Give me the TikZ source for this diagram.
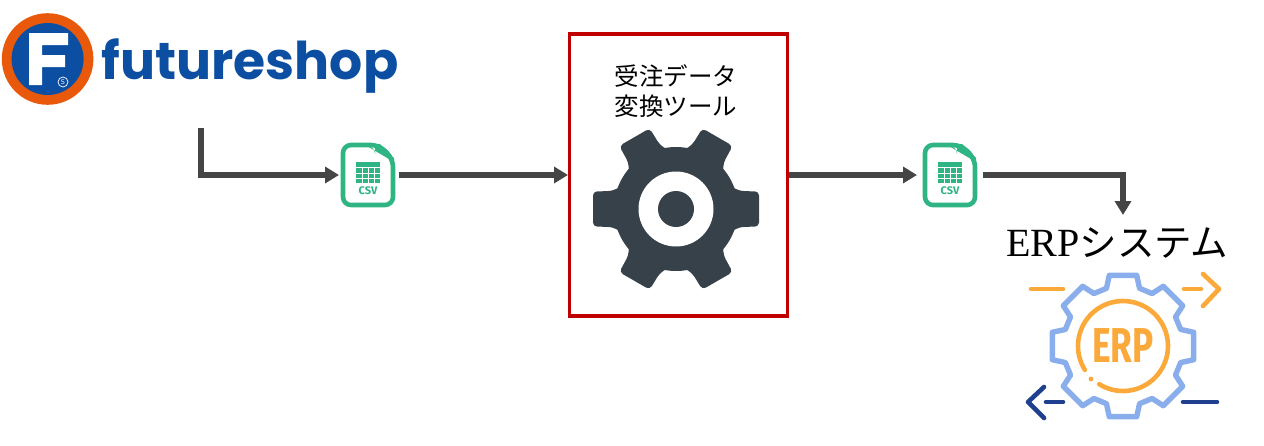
\documentclass[tikz,border=0pt]{standalone}
\usepackage{fontspec}
\setmainfont{Liberation Serif}
\newfontfamily\cjk{Noto Sans CJK JP}
\newfontfamily\logofont{Poppins}
\newfontfamily\iconfont{Fira Sans}
\usetikzlibrary{arrows.meta}
\definecolor{linegray}{HTML}{454545}
\definecolor{boxred}{HTML}{C00000}
\definecolor{geardark}{HTML}{37414A}
\definecolor{csvgreen}{HTML}{2FB584}
\definecolor{fsblue}{HTML}{0B4EA2}
\definecolor{fsorange}{HTML}{E8590C}
\definecolor{erporange}{HTML}{FBA93A}
\definecolor{erpblue}{HTML}{8AAEEB}
\definecolor{erpnavy}{HTML}{1F3F8F}
\tikzset{
  flow/.style={draw=linegray,line width=5.4pt,-{Triangle[length=14pt,width=16pt]}},
  anchorbox/.style={inner sep=0pt,outer sep=0pt,minimum width=#1},
  csvicon/.pic={
    \draw[csvgreen,line width=4.6pt,line join=round,fill=white,rounded corners=8pt]
      (-25,-30) -- (11,-30) -- (25,-16) -- (25,30) -- (-25,30) -- cycle;
    \fill[csvgreen] (7,-31) -- (7,-21) to[out=90,in=180,looseness=0] (7,-21) arc[start angle=180,end angle=90,radius=-8] -- (26,-13) -- (26,-17) -- (12,-31) -- cycle;
    \fill[csvgreen] (-12,-13) rectangle (12,8);
    \foreach \gx in {-6,0,6} \draw[white,line width=1pt] (\gx,-8) -- (\gx,8);
    \foreach \gy in {-7.5,-2,3.5} \draw[white,line width=1pt] (-12,\gy) -- (12,\gy);
    \node[text=csvgreen,font=\iconfont\bfseries\fontsize{11}{12}\selectfont,inner sep=0pt] at (0,16) {CSV};
  },
  tooth/.style={fill=geardark,rounded corners=4pt},
}
\begin{document}
\begin{tikzpicture}[x=1pt,y=-1pt]
\useasboundingbox (0,0) rectangle (1264,445);

% futureshop logo
\fill[fsorange] (47.6,59) circle (45.8);
\fill[fsblue] (47.6,59) circle (36);
\fill[white] (29,33) -- (68,33) -- (68,45) -- (42,45) -- (42,55) -- (65,55) -- (65,67) -- (42,67) -- (42,85) -- (29,85) -- cycle;
\draw[white,line width=.7pt] (63,82) circle (5);
\node[text=white,font=\sffamily\fontsize{7}{8}\selectfont,inner sep=0pt] at (63,82) {S};
\node[anchor=base west,inner sep=0pt,text=fsblue,font=\logofont\bfseries\fontsize{52}{60}\selectfont] (fslogo) at (101.5,79) {futureshop};
\coordinate (fsout) at (201,128);

% tool box
\node[draw=boxred,line width=3.2pt,fill=white,minimum width=218pt,minimum height=282pt,inner sep=0pt,outer sep=1.5pt] (tool) at (678.5,175) {};
\node[font=\cjk\fontsize{24.5}{30}\selectfont,align=center,inner sep=0pt] (toollabel) at (676,91) {受注データ\\変換ツール};

% big gear
\begin{scope}[shift={(676,209)}]
  \fill[geardark] (0,0) circle (62);
  \foreach \a in {0,60,...,300}
    \fill[tooth,rotate=\a] (50,-25) -- (64,-18) -- (83,-17.5) -- (83,17.5) -- (64,18) -- (50,25) -- cycle;
  \fill[white] (0,0) circle (37.5);
  \fill[geardark] (0,0) circle (18);
\end{scope}

% csv icons
\node[anchorbox=58pt,minimum height=66pt] (csvA) at (368,175) {};
\node[anchorbox=58pt,minimum height=66pt] (csvB) at (950,175) {};
\pic at (csvA.center) {csvicon};
\pic at (csvB.center) {csvicon};

% ERP label and icon
\node[anchor=base west,inner sep=0pt,font=\fontsize{40}{44}\selectfont] (erplabel) at (1006,256) {ERP{\cjk\fontsize{37.5}{40}\selectfont システム}};
\begin{scope}[shift={(1123,346)}]
  \draw[erpblue,line width=5.4pt,line join=round]
    (90-16:60) -- (90-11:72) -- (90+11:72) -- (90+16:60)
    -- (135-16:60) -- (135-11:72) -- (135+11:72) -- (135+16:60)
    -- (180-16:60) -- (180-11:72) -- (180+11:72) -- (180+16:60)
    -- (225-16:60) -- (225-11:72) -- (225+11:72) -- (225+16:60)
    -- (270-16:60) -- (270-11:72) -- (270+11:72) -- (270+16:60)
    -- (315-16:60) -- (315-11:72) -- (315+11:72) -- (315+16:60)
    -- (0-16:60) -- (0-11:72) -- (0+11:72) -- (0+16:60)
    -- (45-16:60) -- (45-11:72) -- (45+11:72) -- (45+16:60) -- cycle;
  \draw[erporange,line width=4.6pt,line cap=round] (122:45) arc[start angle=122,end angle=-212,radius=45];
  \fill[erporange] (-32,33) circle (2.4);
  \node[text=erporange,inner sep=0pt,xscale=.72,font=\iconfont\bfseries\fontsize{49}{50}\selectfont] at (0,0) {ERP};
\end{scope}
\begin{scope}[line width=4.6pt,line cap=round,line join=round]
  \draw[erporange] (1031,289) -- (1063,289);
  \draw[erporange] (1184,289) -- (1201,289);
  \draw[erporange] (1203,274) -- (1219,289) -- (1203,306);
  \draw[erpnavy] (1046,402) -- (1063,402);
  \draw[erpnavy] (1044,387) -- (1028,402) -- (1044,418);
  \draw[erpnavy] (1183,402) -- (1217,402);
\end{scope}

% connectors
\coordinate (erpin) at (1123,215);
\draw[flow] (fsout) |- (csvA.west);
\draw[flow] (csvA.east) ++(2,0) -- (tool.west);
\draw[flow] (tool.east) -- ([xshift=-4pt]csvB.west);
\draw[flow] (csvB.east) ++(4,0) -| (erpin);
\end{tikzpicture}
\end{document}
